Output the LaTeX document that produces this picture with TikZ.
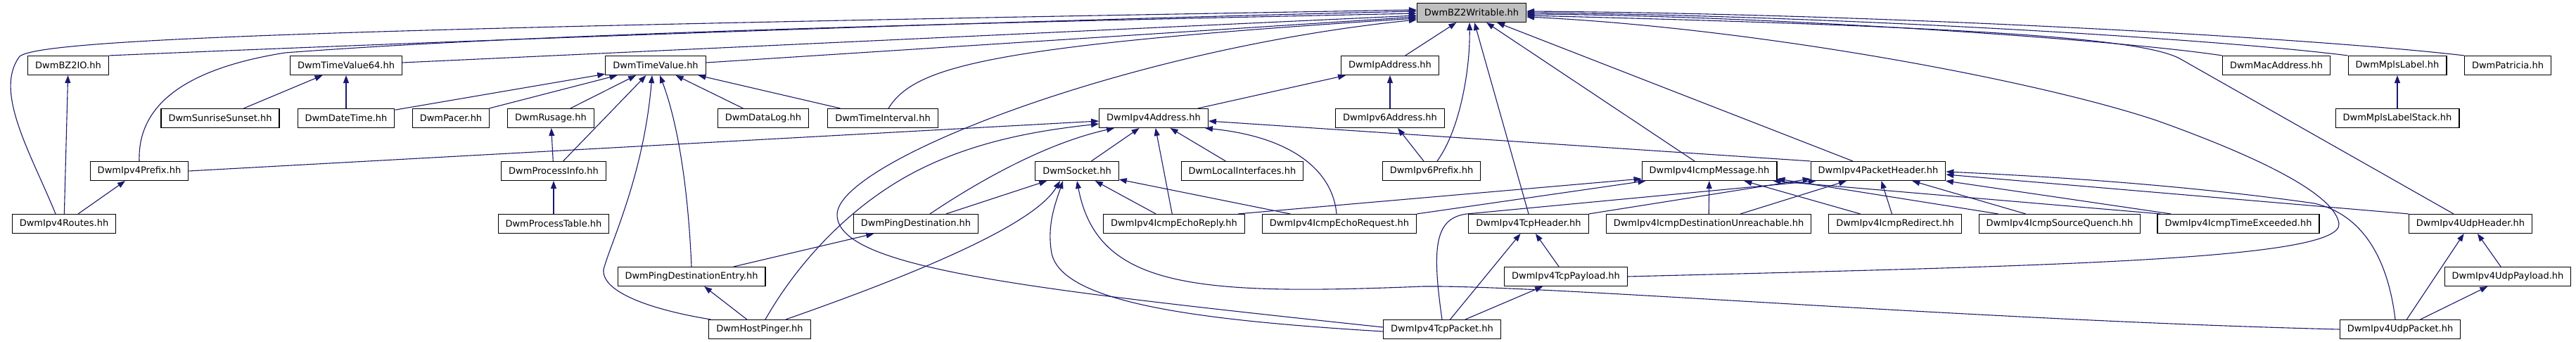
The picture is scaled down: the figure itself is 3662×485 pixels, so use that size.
\documentclass[tikz,border=0pt]{standalone}
\usepackage{fontspec}
\setmainfont{DejaVu Sans}
\usepackage{tikz}
\usetikzlibrary{arrows.meta,calc}
\definecolor{edgeblue}{HTML}{191970}
\definecolor{rootgray}{HTML}{BFBFBF}

\begin{document}
\begin{tikzpicture}[x=1pt,y=-1pt,
  hdr/.style={draw=black,fill=white,line width=1.1pt,inner xsep=10.5pt,inner ysep=0pt,minimum height=27pt,font=\fontsize{13}{15}\selectfont},
  roothdr/.style={hdr,fill=rootgray},
  ar/.style={-{Triangle[length=11pt,width=8pt]},draw=edgeblue,line width=1.1pt}]

\useasboundingbox (0,0) rectangle (3662,485);

\node[roothdr] (bzw) at (2092,18) {DwmBZ2Writable.hh};
% rank 2
\node[hdr] (bzio)     at (97,93)   {DwmBZ2IO.hh};
\node[hdr] (tv64)     at (492,93)  {DwmTimeValue64.hh};
\node[hdr] (tv)       at (932,93)  {DwmTimeValue.hh};
\node[hdr] (ipaddr)   at (1976,93) {DwmIpAddress.hh};
\node[hdr] (mac)      at (3236,93) {DwmMacAddress.hh};
\node[hdr] (mpls)     at (3408,93) {DwmMplsLabel.hh};
\node[hdr] (patricia) at (3565,93) {DwmPatricia.hh};
% rank 3
\node[hdr] (sunrise)   at (313,168)  {DwmSunriseSunset.hh};
\node[hdr] (datetime)  at (492,168)  {DwmDateTime.hh};
\node[hdr] (pacer)     at (641,168)  {DwmPacer.hh};
\node[hdr] (rusage)    at (783,168)  {DwmRusage.hh};
\node[hdr] (datalog)   at (1085,168) {DwmDataLog.hh};
\node[hdr] (tinterval) at (1255,168) {DwmTimeInterval.hh};
\node[hdr] (ipv4addr)  at (1640,168) {DwmIpv4Address.hh};
\node[hdr] (ipv6addr)  at (1976,168) {DwmIpv6Address.hh};
\node[hdr] (mplsstack) at (3408,168) {DwmMplsLabelStack.hh};
% rank 4
\node[hdr] (ipv4prefix) at (198,243)  {DwmIpv4Prefix.hh};
\node[hdr] (procinfo)   at (787,243)  {DwmProcessInfo.hh};
\node[hdr] (socket)     at (1531,243) {DwmSocket.hh};
\node[hdr] (localif)    at (1766,243) {DwmLocalInterfaces.hh};
\node[hdr] (ipv6prefix) at (2035,243) {DwmIpv6Prefix.hh};
\node[hdr] (icmpmsg)    at (2430,243) {DwmIpv4IcmpMessage.hh};
\node[hdr] (pkthdr)     at (2670,243) {DwmIpv4PacketHeader.hh};
% rank 5
\node[hdr] (routes)      at (91,318)   {DwmIpv4Routes.hh};
\node[hdr] (proctable)   at (787,318)  {DwmProcessTable.hh};
\node[hdr] (pingdest)    at (1302,318) {DwmPingDestination.hh};
\node[hdr] (echoreply)   at (1669,318) {DwmIpv4IcmpEchoReply.hh};
\node[hdr] (echoreq)     at (1904,318) {DwmIpv4IcmpEchoRequest.hh};
\node[hdr] (tcphdr)      at (2173,318) {DwmIpv4TcpHeader.hh};
\node[hdr] (destunreach) at (2429,318) {DwmIpv4IcmpDestinationUnreachable.hh};
\node[hdr] (redirect)    at (2694,318) {DwmIpv4IcmpRedirect.hh};
\node[hdr] (srcquench)   at (2928,318) {DwmIpv4IcmpSourceQuench.hh};
\node[hdr] (timeexc)     at (3182,318) {DwmIpv4IcmpTimeExceeded.hh};
\node[hdr] (udphdr)      at (3512,318) {DwmIpv4UdpHeader.hh};
% rank 6
\node[hdr] (pingentry)  at (983,393)  {DwmPingDestinationEntry.hh};
\node[hdr] (tcppayload) at (2226,393) {DwmIpv4TcpPayload.hh};
\node[hdr] (udppayload) at (3565,393) {DwmIpv4UdpPayload.hh};
% rank 7
\node[hdr] (hostpinger) at (1080,468) {DwmHostPinger.hh};
\node[hdr] (tcppacket)  at (2050,468) {DwmIpv4TcpPacket.hh};
\node[hdr] (udppacket)  at (3412,468) {DwmIpv4UdpPacket.hh};

% into DwmBZ2Writable.hh
\draw[ar] ($(routes.north)+(-12,0)$) .. controls (45,220) and (-10,130) .. (28,80) .. controls (60,55) and (500,40) .. ($(bzw.west)+(0,-4)$);
\draw[ar] (bzio.north east) .. controls (600,60) and (1400,30) .. ($(bzw.west)+(0,-2)$);
\draw[ar] (ipv4prefix.north) .. controls (195,140) and (280,95) .. (405,75) .. controls (800,45) and (1500,30) .. ($(bzw.west)+(0,1)$);
\draw[ar] ($(tv64.east)+(0,-4)$) -- ($(bzw.west)+(0,4)$);
\draw[ar] ($(tv.east)+(0,-4)$) -- ($(bzw.west)+(0,6)$);
\draw[ar] ($(tinterval.north)+(8,0)$) .. controls (1300,95) and (1400,65) .. ($(bzw.west)+(0,8)$);
\draw[ar] ($(tcppacket.west)+(0,-3)$) .. controls (1450,410) and (1190,380) .. (1190,305) .. controls (1190,230) and (1600,70) .. ($(bzw.west)+(0,10)$);
\draw[ar] (ipaddr) -- (bzw);
\draw[ar] ($(ipv6prefix.north)+(8,0)$) .. controls (2075,185) and (2090,100) .. ($(bzw.south)+(-3,0)$);
\draw[ar] (tcphdr.north) -- ($(bzw.south)+(4,0)$);
\draw[ar] (icmpmsg) -- (bzw);
\draw[ar] (pkthdr) -- (bzw);
\draw[ar] (mac.north west) .. controls (3000,55) and (2500,22) .. ($(bzw.east)+(0,2)$);
\draw[ar] (mpls.north west) .. controls (3150,55) and (2600,22) .. (bzw.east);
\draw[ar] (patricia.north west) .. controls (3300,55) and (2700,20) .. ($(bzw.east)+(0,-2)$);
\draw[ar] ($(udphdr.north)+(-24,0)$) -- (3100,84) .. controls (3048,54) and (2800,38) .. ($(bzw.east)+(0,4)$);
\draw[ar] (tcppayload.east) .. controls (2900,378) and (3330,370) .. (3325,318) .. controls (3320,280) and (3230,230) .. (3068,172) .. controls (2900,115) and (2500,40) .. ($(bzw.east)+(0,6)$);

% time values
\draw[ar] (routes) -- (bzio);
\draw[ar] (routes) -- (ipv4prefix);
\draw[ar] (ipv4prefix.east) -- ($(ipv4addr.west)+(0,4)$);
\draw[ar] (sunrise) -- (tv64);
\draw[ar] (datetime) -- (tv64);
\draw[ar] (datetime) -- (tv);
\draw[ar] (pacer) -- (tv);
\draw[ar] (rusage) -- (tv);
\draw[ar] (procinfo) -- (tv);
\draw[ar] (procinfo) -- (rusage);
\draw[ar] (proctable) -- (procinfo);
\draw[ar] (datalog) -- (tv);
\draw[ar] (tinterval) -- (tv);
\draw[ar] (pingentry.north) .. controls (978,260) and (962,170) .. ($(tv.south)+(6,0)$);
\draw[ar] ($(hostpinger.north west)+(3,0)$) .. controls (925,440) and (855,415) .. (858,383) .. controls (868,345) and (915,250) .. ($(tv.south)+(-5,0)$);

% addresses and sockets
\draw[ar] (hostpinger) -- (pingentry);
\draw[ar] (pingentry) -- (pingdest);
\draw[ar] ($(hostpinger.north)+(37,0)$) .. controls (1300,390) and (1470,320) .. ($(socket.south)+(-24,0)$);
\draw[ar] ($(hostpinger.north)+(8,0)$) .. controls (1130,380) and (1200,300) .. (1290,250) .. controls (1380,200) and (1480,185) .. ($(ipv4addr.west)+(0,8)$);
\draw[ar] ($(pingdest.north)+(20,0)$) .. controls (1380,265) and (1480,205) .. ($(ipv4addr.south west)+(22,0)$);
\draw[ar] (pingdest) -- (socket);
\draw[ar] (socket) -- (ipv4addr);
\draw[ar] (localif) -- (ipv4addr);
\draw[ar] (echoreply) -- (ipv4addr);
\draw[ar] (echoreply) -- (socket);
\draw[ar] (echoreq) -- (socket);
\draw[ar] ($(echoreq.north)+(-4,0)$) .. controls (1895,245) and (1840,195) .. ($(ipv4addr.south east)+(-5,0)$);
\draw[ar] (pkthdr.north west) -- ($(ipv4addr.east)+(0,4)$);
\draw[ar] (ipv4addr) -- (ipaddr);
\draw[ar] (ipv6addr) -- (ipaddr);
\draw[ar] (ipv6prefix) -- (ipv6addr);
\draw[ar] ($(tcppacket.west)+(0,3)$) .. controls (1700,455) and (1510,430) .. (1495,360) .. controls (1488,320) and (1500,290) .. ($(socket.south)+(-20,0)$);
\draw[ar] (udppacket.west) .. controls (2800,455) and (2200,405) .. (2023,407) .. controls (1700,420) and (1560,410) .. (socket.south);

% icmp messages
\draw[ar] ($(echoreply.north east)+(-10,0)$) -- ($(icmpmsg.south west)+(0,-3)$);
\draw[ar] (echoreq.north east) -- ($(icmpmsg.south west)+(6,0)$);
\draw[ar] (destunreach) -- (icmpmsg);
\draw[ar] (redirect) -- (icmpmsg);
\draw[ar] ($(srcquench.north west)+(28,0)$) -- ($(icmpmsg.south east)+(0,-3)$);
\draw[ar] ($(timeexc.north west)+(5,0)$) -- ($(icmpmsg.south east)+(-6,0)$);

% packet header
\draw[ar] (tcphdr.north east) -- ($(pkthdr.south west)+(0,-3)$);
\draw[ar] (tcppacket.north) .. controls (2035,350) and (2040,310) .. (2085,304) -- ($(pkthdr.south west)+(8,0)$);
\draw[ar] (destunreach) -- (pkthdr);
\draw[ar] (redirect) -- (pkthdr);
\draw[ar] (srcquench) -- (pkthdr);
\draw[ar] (timeexc) -- (pkthdr);
\draw[ar] (udphdr.north west) -- ($(pkthdr.east)+(0,5)$);
\draw[ar] ($(udppacket.north)+(-7,0)$) .. controls (3395,370) and (3360,305) .. (3290,289) .. controls (3100,262) and (2900,250) .. ($(pkthdr.east)+(0,1)$);

% tcp / udp
\draw[ar] (tcppayload) -- (tcphdr);
\draw[ar] (tcppacket) -- (tcphdr);
\draw[ar] (tcppacket) -- (tcppayload);
\draw[ar] (udppayload) -- (udphdr);
\draw[ar] (udppacket) -- (udphdr);
\draw[ar] (udppacket) -- (udppayload);
\draw[ar] (mplsstack) -- (mpls);
\end{tikzpicture}
\end{document}
